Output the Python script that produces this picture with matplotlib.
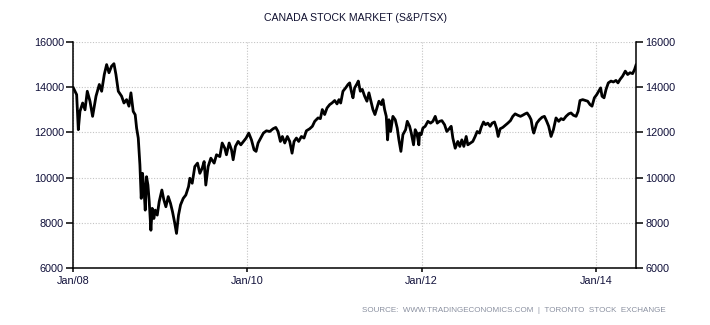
import numpy as np
import matplotlib
matplotlib.use("Agg")
import matplotlib.pyplot as plt

years = [
    2008.004, 2008.042, 2008.061, 2008.080, 2008.111, 2008.138, 2008.164, 2008.195, 2008.225, 2008.264,
    2008.302, 2008.329, 2008.359, 2008.386, 2008.413, 2008.443, 2008.470, 2008.493, 2008.520, 2008.558,
    2008.585, 2008.615, 2008.642, 2008.665, 2008.691, 2008.714, 2008.730, 2008.749, 2008.768, 2008.783,
    2008.798, 2008.814, 2008.829, 2008.844, 2008.860, 2008.875, 2008.894, 2008.909, 2008.928, 2008.944,
    2008.967, 2008.989, 2009.020, 2009.043, 2009.066, 2009.093, 2009.119, 2009.142, 2009.165, 2009.188,
    2009.211, 2009.234, 2009.265, 2009.295, 2009.326,
    2009.341, 2009.368, 2009.398, 2009.429, 2009.456, 2009.482, 2009.505, 2009.524, 2009.551, 2009.582,
    2009.620, 2009.647, 2009.685, 2009.712, 2009.742, 2009.761, 2009.792, 2009.819, 2009.838, 2009.864,
    2009.895, 2009.926, 2009.956, 2009.987, 2010.017, 2010.048, 2010.078, 2010.101, 2010.124, 2010.155,
    2010.185, 2010.220, 2010.258, 2010.296, 2010.327, 2010.353, 2010.380, 2010.403, 2010.430, 2010.460,
    2010.487, 2010.514, 2010.537, 2010.564, 2010.590, 2010.621, 2010.651,
    2010.678, 2010.716, 2010.747, 2010.774, 2010.812, 2010.839, 2010.861, 2010.888, 2010.915, 2010.946,
    2010.972, 2011.003, 2011.030, 2011.052, 2011.072, 2011.098, 2011.129, 2011.156, 2011.175, 2011.194,
    2011.213, 2011.232, 2011.259, 2011.274, 2011.297, 2011.320, 2011.347, 2011.373, 2011.396, 2011.415,
    2011.442, 2011.465, 2011.488, 2011.511, 2011.538, 2011.557, 2011.576, 2011.595, 2011.610, 2011.626,
    2011.645, 2011.671, 2011.698, 2011.721, 2011.740, 2011.763, 2011.786, 2011.817, 2011.836, 2011.863,
    2011.882, 2011.908, 2011.927, 2011.946, 2011.969,
    2011.977, 2011.996, 2012.015, 2012.042, 2012.073, 2012.103, 2012.130, 2012.157, 2012.180, 2012.206,
    2012.233, 2012.264, 2012.290, 2012.317, 2012.340, 2012.359, 2012.386, 2012.416, 2012.439, 2012.462,
    2012.485, 2012.512, 2012.531, 2012.562, 2012.588, 2012.615, 2012.638, 2012.665, 2012.684, 2012.711,
    2012.734, 2012.760, 2012.787, 2012.810, 2012.837, 2012.860, 2012.879, 2012.902, 2012.932, 2012.959,
    2012.990, 2013.020, 2013.047, 2013.074, 2013.104, 2013.135, 2013.161, 2013.188, 2013.211, 2013.238,
    2013.257, 2013.276, 2013.288,
    2013.322, 2013.352, 2013.383, 2013.410, 2013.436, 2013.459, 2013.486, 2013.513, 2013.543, 2013.574,
    2013.601, 2013.628, 2013.658, 2013.689, 2013.715, 2013.742, 2013.773, 2013.796, 2013.818, 2013.849,
    2013.880, 2013.906, 2013.933, 2013.956, 2013.983, 2014.010, 2014.032, 2014.055, 2014.071, 2014.094,
    2014.117, 2014.143, 2014.174, 2014.201, 2014.231, 2014.254, 2014.277, 2014.307, 2014.338, 2014.365,
    2014.392, 2014.422, 2014.445, 2014.461,
]
tsx = [
    13970, 13670, 12120, 12930, 13300, 13000, 13820, 13380, 12710, 13600,
    14120, 13820, 14560, 15000, 14640, 14930, 15040, 14560, 13820, 13600,
    13300, 13450, 13160, 13750, 12930, 12780, 12190, 11750, 10560, 9080,
    10190, 9530, 8560, 10040, 9670, 8930, 7670, 8640, 8190, 8560,
    8340, 8930, 9450, 9010, 8710, 9160, 8860, 8490, 8040, 7530,
    8340, 8790, 9080, 9230, 9600,
    9970, 9750, 10490, 10640, 10190, 10410, 10710, 9670, 10490, 10860,
    10640, 11010, 10930, 11530, 11300, 11010, 11530, 11230, 10790, 11380,
    11600, 11450, 11600, 11750, 11970, 11670, 11230, 11160, 11530, 11750,
    11970, 12070, 12040, 12160, 12220, 12040, 11600, 11820, 11530, 11820,
    11600, 11080, 11600, 11750, 11600, 11820, 11750,
    12070, 12160, 12270, 12490, 12640, 12610, 13010, 12790, 13080, 13230,
    13300, 13410, 13260, 13450, 13300, 13820, 13970, 14120, 14190, 13820,
    13530, 13970, 14150, 14270, 13820, 13900, 13600, 13380, 13750, 13450,
    13010, 12790, 13080, 13380, 13230, 13450, 13010, 12710, 11670, 12560,
    12040, 12710, 12560, 12190, 11670, 11160, 11900, 12120, 12490, 12270,
    11970, 11450, 12120, 11970, 11450,
    11970, 11900, 12190, 12270, 12490, 12410, 12490, 12710, 12410, 12490,
    12520, 12340, 12040, 12160, 12270, 11750, 11300, 11600, 11380, 11670,
    11380, 11820, 11450, 11530, 11600, 11820, 12040, 11970, 12220, 12460,
    12340, 12410, 12270, 12410, 12460, 12190, 11820, 12160, 12220, 12310,
    12410, 12520, 12710, 12820, 12760, 12710, 12760, 12820, 12860, 12710,
    12560, 12120, 11970,
    12410, 12560, 12670, 12710, 12490, 12270, 11820, 12120, 12640, 12490,
    12610, 12560, 12710, 12820, 12860, 12760, 12710, 12930, 13410, 13450,
    13410, 13380, 13230, 13160, 13530, 13670, 13820, 13970, 13600, 13530,
    13900, 14190, 14270, 14230, 14300, 14190, 14340, 14490, 14710, 14560,
    14640, 14600, 14790, 14980,
]

yticks = [6000, 8000, 10000, 12000, 14000, 16000]
xticks = [2008, 2010, 2012, 2014]
xlabels = ["Jan/08", "Jan/10", "Jan/12", "Jan/14"]

plt.rcParams['font.family'] = ['Liberation Sans', 'DejaVu Sans']

fig = plt.figure(figsize=(7.1, 3.25), dpi=100)
ax = fig.add_axes([0.1028, 0.1754, 0.7930, 0.6954])

ax.plot(years, tsx, color='black', linewidth=2.0, solid_joinstyle='round')

ax.set_xlim(2008, years[-1])
ax.set_ylim(6000, 16000)
ax.set_yticks(yticks)
ax.set_xticks(xticks)
ax.set_xticklabels(xlabels)

ax.grid(True, color='#c4c4c4', linestyle=(0, (1, 1.5)), linewidth=0.8)
ax.set_axisbelow(True)

ax.spines['top'].set_visible(False)
for s in ['left', 'right', 'bottom']:
    ax.spines[s].set_linewidth(1.1)

ax.tick_params(axis='y', which='both', left=True, right=True, labelleft=True, labelright=True,
               length=5, width=1.1, pad=1.5, labelsize=7.8, labelcolor='#10103a')
ax.tick_params(axis='x', length=3, width=1.1, pad=2.5, labelsize=7.8, labelcolor='#10103a')

fig.text(0.5, 0.944, "CANADA STOCK MARKET (S&P/TSX)", ha='center', va='center',
         fontsize=7.6, color='#101030')
fig.text(0.937, 0.046, "SOURCE:  WWW.TRADINGECONOMICS.COM  |  TORONTO  STOCK  EXCHANGE",
         ha='right', va='center', fontsize=5.8, color='#8a90a0')

fig.savefig("out.png", dpi=100)
